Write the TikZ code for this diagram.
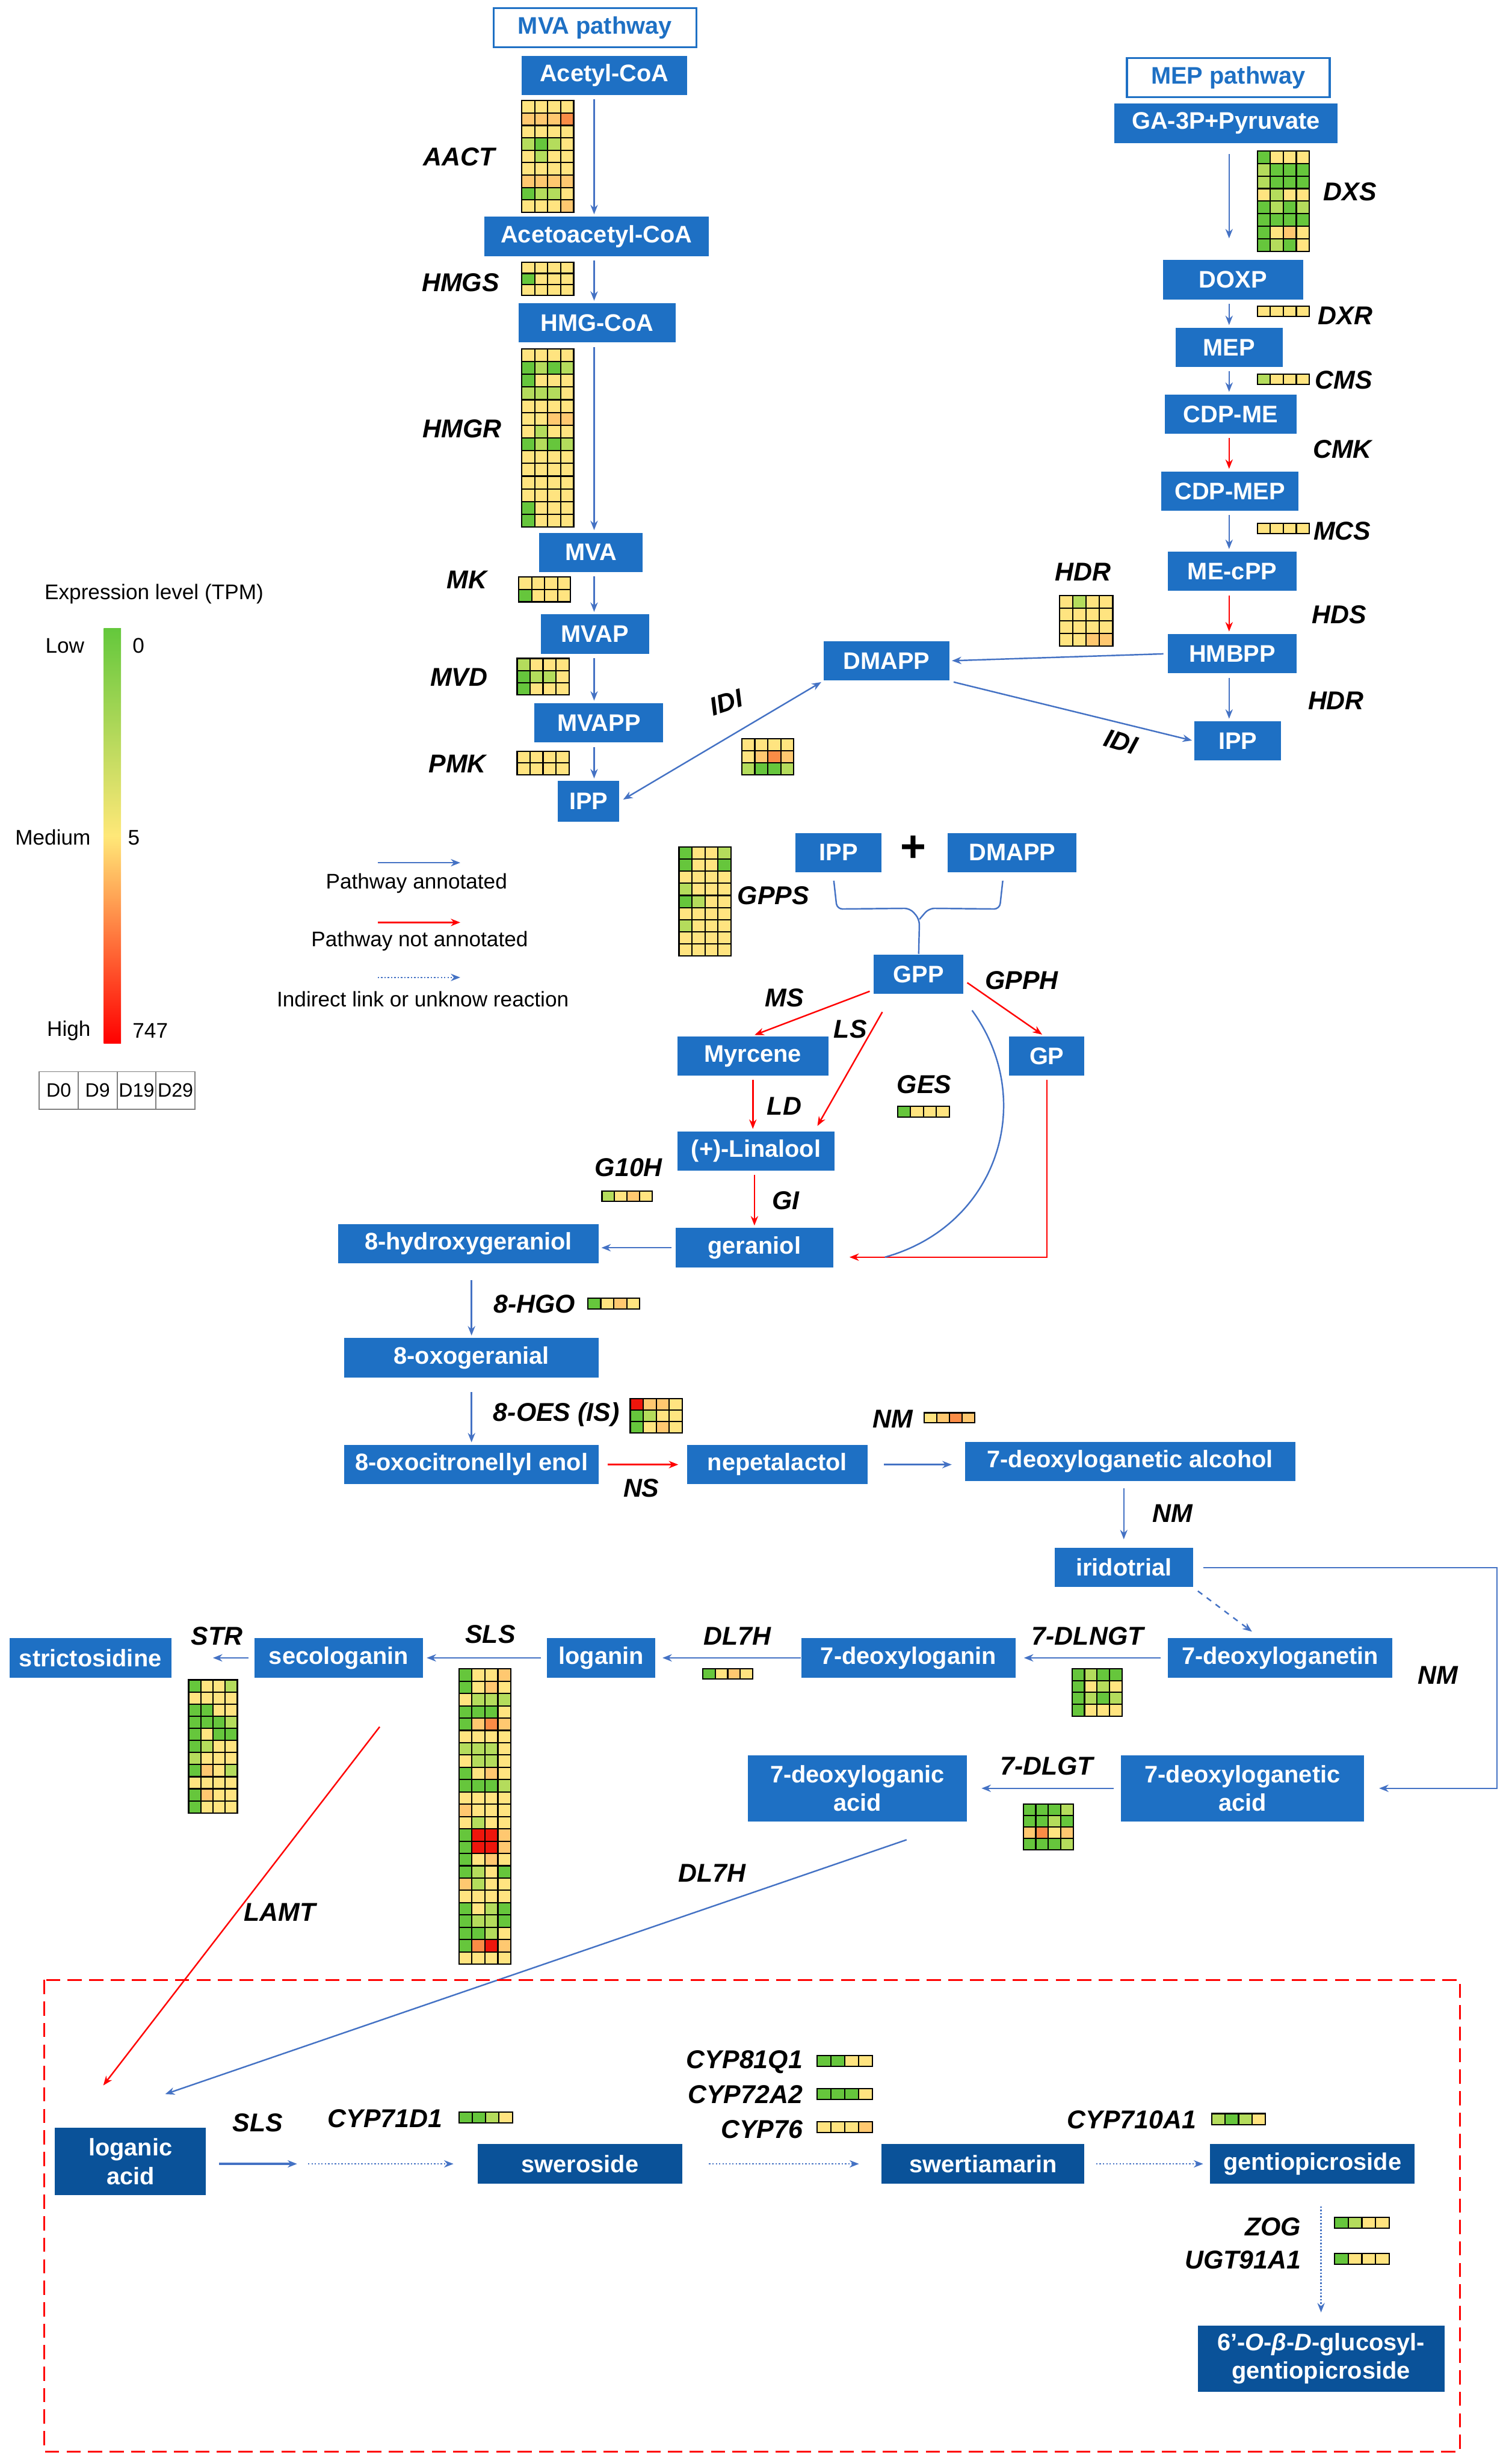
\documentclass[tikz,border=0pt]{standalone}
\usepackage{fontspec}
\setmainfont{Liberation Sans}
\usetikzlibrary{arrows.meta,calc}
\definecolor{boxblue}{RGB}{30,112,196}
\definecolor{darkblue}{RGB}{10,82,153}
\definecolor{lineblue}{RGB}{68,114,196}
\definecolor{hmg}{RGB}{102,198,60}
\definecolor{hml}{RGB}{180,220,92}
\definecolor{hmy}{RGB}{255,228,128}
\definecolor{hma}{RGB}{255,200,112}
\definecolor{hmo}{RGB}{250,140,70}
\definecolor{hmr}{RGB}{238,22,12}
\definecolor{cbgreen}{RGB}{100,200,60}
\definecolor{cbyellow}{RGB}{255,232,120}
\tikzset{every picture/.style={line width=0.8pt}}
\tikzset{
  pbox/.style={fill=boxblue, text=white, inner sep=0pt, minimum height=7.5mm,
    font=\bfseries\fontsize{13}{15.5}\selectfont},
  dbox/.style={pbox, fill=darkblue},
  pwbox/.style={draw=boxblue, line width=1pt, fill=white, text=boxblue, inner sep=0pt,
    minimum height=7.5mm, font=\bfseries\fontsize{13}{15.5}\selectfont},
  gene/.style={font=\bfseries\itshape\fontsize{14}{16}\selectfont},
  legend/.style={font=\fontsize{11.5}{13}\selectfont},
  bline/.style={->, draw=lineblue, shorten >=1pt, shorten <=2pt},
  rline/.style={bline, draw=red},
  dline/.style={bline, densely dotted},
  plain/.style={draw=lineblue},
}
% heat map: x, y, cell width, cell height, rows
\newcommand{\heat}[5]{%
  \foreach \hmrow [count=\hmi] in {#5} {%
    \foreach \hmc [count=\hmj] in \hmrow {%
      \filldraw[fill=hm\hmc, draw=black, line width=0.7pt]
        ({#1+(\hmj-1)*#3},{#2+(\hmi-1)*#4}) rectangle ++(#3,#4);
    }%
  }%
}

\begin{document}
\begin{tikzpicture}[x=0.3mm, y=-0.3mm, >={Stealth[length=1.8mm, width=1.4mm]}]
    \useasboundingbox (0,0) rectangle (958,1568);
    \coordinate (mvaaxis) at (378,0);
    \coordinate (mepaxis) at (782,0);

    % MVA pathway
    \node[pwbox, minimum width=38.7mm] (mvapw) at (378.5,17.5) {MVA pathway};
    \node[pbox, minimum width=31.5mm] (acetyl) at (384.5,48) {Acetyl-CoA};
    \node[pbox, minimum width=42.9mm] (acetoacetyl) at (379.5,150.5) {Acetoacetyl-CoA};
    \node[pbox, minimum width=30mm] (hmgcoa) at (380,205.5) {HMG-CoA};
    \node[pbox, minimum width=19.8mm] (mva) at (376,351.5) {MVA};
    \node[pbox, minimum width=20.7mm] (mvap) at (378.5,403.5) {MVAP};
    \node[pbox, minimum width=24.6mm] (mvapp) at (381,460) {MVAPP};
    \node[pbox, minimum width=11.7mm, minimum height=7.8mm] (ippL) at (374.5,510) {IPP};
    \draw[bline] (acetyl.south -| mvaaxis) -- (acetoacetyl.north -| mvaaxis);
    \draw[bline] (acetoacetyl.south -| mvaaxis) -- (hmgcoa.north -| mvaaxis);
    \draw[bline] (hmgcoa.south -| mvaaxis) -- (mva.north -| mvaaxis);
    \draw[bline] (mva.south -| mvaaxis) -- (mvap.north -| mvaaxis);
    \draw[bline] (mvap.south -| mvaaxis) -- (mvapp.north -| mvaaxis);
    \draw[bline] (mvapp.south -| mvaaxis) -- (ippL.north -| mvaaxis);
    \node[gene] (gaact) at (292,100) {AACT};
    \node[gene] (ghmgs) at (293,180) {HMGS};
    \node[gene] (ghmgr) at (294,273) {HMGR};
    \node[gene] (gmk) at (297,369) {MK};
    \node[gene] (gmvd) at (292,431) {MVD};
    \node[gene] (gpmk) at (291,486) {PMK};
    \heat{332}{64}{8.25}{7.9}{{y,y,y,y},{a,a,a,o},{y,y,y,y},{l,g,l,y},{y,l,y,y},{y,y,y,y},{a,a,a,a},{g,l,l,y},{y,y,y,a}}
    \heat{332}{167}{8.25}{7}{{y,y,y,y},{g,y,y,y},{y,y,y,y}}
    \heat{332}{222}{8.25}{8.1}{{y,y,y,y},{g,l,g,l},{g,y,y,y},{l,l,l,y},{y,y,y,y},{y,y,a,a},{y,l,y,y},{g,l,g,l},{y,y,y,y},{y,y,y,y},{y,y,y,y},{y,y,y,y},{g,y,y,y},{g,y,y,y}}
    \heat{330}{367}{8.25}{8}{{y,y,y,y},{g,y,y,y}}
    \heat{329}{419}{8.25}{7.7}{{l,y,y,y},{g,l,l,y},{g,y,y,y}}
    \heat{329}{478}{8.25}{7.5}{{y,y,y,y},{y,y,y,y}}

    % MEP pathway
    \node[pwbox, minimum width=38.7mm] (meppw) at (781.5,49.5) {MEP pathway};
    \node[pbox, minimum width=42.6mm] (ga3p) at (780,78.5) {GA-3P+Pyruvate};
    \node[pbox, minimum width=26.7mm] (doxp) at (784.5,178) {DOXP};
    \node[pbox, minimum width=20.4mm] (mep) at (782,221) {MEP};
    \node[pbox, minimum width=25.2mm] (cdpme) at (783,263.5) {CDP-ME};
    \node[pbox, minimum width=26.1mm] (cdpmep) at (782.5,312.5) {CDP-MEP};
    \node[pbox, minimum width=24.6mm] (mecpp) at (784,363.5) {ME-cPP};
    \node[pbox, minimum width=24.6mm] (hmbpp) at (784,416) {HMBPP};
    \node[pbox, minimum width=16.5mm] (ippR) at (787.5,471.5) {IPP};
    \node[pbox, minimum width=24mm] (dmappT) at (564,420.5) {DMAPP};
    \draw[bline, shorten <=2mm, shorten >=4mm] (ga3p.south -| mepaxis) -- (doxp.north -| mepaxis);
    \draw[bline] (doxp.south -| mepaxis) -- (mep.north -| mepaxis);
    \draw[bline] (mep.south -| mepaxis) -- (cdpme.north -| mepaxis);
    \draw[rline] (cdpme.south -| mepaxis) -- (cdpmep.north -| mepaxis);
    \draw[bline] (cdpmep.south -| mepaxis) -- (mecpp.north -| mepaxis);
    \draw[rline] (mecpp.south -| mepaxis) -- (hmbpp.north -| mepaxis);
    \draw[bline] (hmbpp.south -| mepaxis) -- (ippR.north -| mepaxis);
    \draw[bline] (hmbpp.west) -- (dmappT.east);
    \draw[bline] (dmappT.south east) -- (ippR.west);
    \draw[bline, <->] (ippL.east) -- (dmappT.south west);
    \node[gene] (gdxs) at (859,122) {DXS};
    \node[gene] (gdxr) at (856,201) {DXR};
    \node[gene] (gcms) at (855,242) {CMS};
    \node[gene] (gcmk) at (854,286) {CMK};
    \node[gene] (gmcs) at (854,338) {MCS};
    \node[gene] (ghds) at (852,391) {HDS};
    \node[gene] (ghdr) at (850,446) {HDR};
    \node[gene] (ghdrb) at (689,364) {HDR};
    \node[gene, rotate=18, inner sep=1pt] (gidia) at (462,447) {IDI};
    \node[gene, rotate=-17, inner sep=1pt] (gidib) at (713,472) {IDI};
    \heat{800}{96}{8.25}{8}{{g,y,y,y},{l,g,g,g},{l,g,g,g},{y,l,y,y},{g,l,g,l},{g,g,g,g},{g,y,a,y},{g,l,g,y}}
    \heat{800}{195}{8.25}{6.5}{{y,y,y,y}}
    \heat{800}{238}{8.25}{6.5}{{l,y,y,y}}
    \heat{800}{333}{8.25}{6.5}{{y,y,y,y}}
    \heat{674}{379}{8.5}{8}{{y,l,y,y},{y,y,y,y},{y,y,y,y},{y,y,a,a}}
    \heat{472}{470}{8.25}{7.7}{{y,y,y,y},{y,a,o,a},{l,g,g,l}}

    % legend
    \node[legend, anchor=west] (explevel) at (24,378) {Expression level (TPM)};
    \shade[top color=cbgreen, bottom color=red, middle color=cbyellow] (66,400) rectangle (77,664);
    \node[legend, anchor=east] (llow) at (58,411) {Low};
    \node[legend, anchor=west] (lzero) at (80,411) {0};
    \node[legend, anchor=east] (lmed) at (62,533) {Medium};
    \node[legend, anchor=west] (lfive) at (77,533) {5};
    \node[legend, anchor=east] (lhigh) at (62,656) {High};
    \node[legend, anchor=west] (lmax) at (80,656) {747};
    \foreach \d [count=\k] in {D0,D9,D19,D29} {
        \draw[gray, line width=0.6pt] ({25+(\k-1)*24.75},682) rectangle ++(24.75,24);
        \node[font=\fontsize{10.5}{12}\selectfont] (day\k) at ({25+(\k-0.5)*24.75},694) {\d};
    }
    \draw[bline] (238,549) -- (294,549);
    \node[legend] (kannot) at (265,562) {Pathway annotated};
    \draw[rline] (238,587) -- (294,587);
    \node[legend] (knot) at (267,599) {Pathway not annotated};
    \draw[dline] (238,622) -- (294,622);
    \node[legend] (kind) at (269,636) {Indirect link or unknow reaction};

    % GPP
    \node[pbox, minimum width=16.5mm] (ippM) at (533.5,542.5) {IPP};
    \node[font=\bfseries\fontsize{24}{24}\selectfont] (plus) at (581,540) {+};
    \node[pbox, minimum width=24.6mm] (dmappM) at (644,542.5) {DMAPP};
    \node[pbox, minimum width=17.1mm] (gpp) at (584.5,620) {GPP};
    \coordinate (gppjoin) at (585,585);
    \draw[plain, rounded corners=3pt] ($(ippM.south)+(-3,5)$) -- ($(ippM.south)+(-1,23)$) -- ($(gppjoin)+(-6,-7)$) -- (gppjoin) -- (gpp.north);
    \draw[plain, rounded corners=3pt] ($(dmappM.south)+(-6,5)$) -- ($(dmappM.south)+(-8,23)$) -- ($(gppjoin)+(6,-7)$) -- (gppjoin);
    \node[gene] (ggpps) at (492,570) {GPPS};
    \heat{432}{539}{8.25}{7.7}{{g,y,y,l},{g,y,y,g},{y,y,y,y},{l,y,y,y},{g,l,y,y},{y,y,y,y},{l,y,y,y},{y,y,y,y},{y,y,y,y}}

    \node[pbox, minimum width=28.8mm] (myrcene) at (479,672) {Myrcene};
    \node[pbox, minimum width=14.4mm] (gp) at (666,672) {GP};
    \node[pbox, minimum width=30mm] (linalool) at (481,732.5) {(+)-Linalool};
    \node[pbox, minimum width=30mm] (geraniol) at (480,794) {geraniol};
    \coordinate (gesjoin) at (563,800);
    \draw[rline] ($(gpp.south west)+(0,-3)$) -- (myrcene.north);
    \draw[rline] ($(gpp.south west)+(7,9)$) -- ($(linalool.north east)+(-12,-2)$);
    \draw[rline] ($(gpp.east)+(0,4)$) -- ($(gp.north)+(-2,0)$);
    \draw[rline] (myrcene.south) -- (myrcene.south |- linalool.north);
    \draw[rline] (linalool.south -| geraniol.north) -- (geraniol.north);
    \draw[rline, shorten >=3mm] (gp.south) |- ($(geraniol.east)+(0,6)$);
    \draw[plain] ($(gpp.south east)+(5,10)$) .. controls (660,700) and (635,780) .. (gesjoin);
    \node[gene] (gms) at (499,635) {MS};
    \node[gene] (gls) at (541,655) {LS};
    \node[gene] (ggpph) at (650,624) {GPPH};
    \node[gene] (gld) at (499,704) {LD};
    \node[gene] (gges) at (588,690) {GES};
    \node[gene] (ggi) at (500,764) {GI};
    \node[gene] (gg10h) at (400,743) {G10H};
    \heat{571}{704}{8.25}{7}{{g,y,y,y}}
    \heat{383}{758}{8}{6.5}{{l,y,a,y}}

    % iridoid branch
    \node[pbox, minimum width=49.8mm] (hydroxy) at (298,791.5) {8-hydroxygeraniol};
    \node[pbox, minimum width=48.6mm] (oxoger) at (300,864) {8-oxogeranial};
    \node[pbox, minimum width=48.6mm] (oxocit) at (300,932) {8-oxocitronellyl enol};
    \node[pbox, minimum width=34.5mm] (nepeta) at (494.5,932) {nepetalactol};
    \node[pbox, minimum width=63mm] (dlgalc) at (719,930) {7-deoxyloganetic alcohol};
    \node[pbox, minimum width=26.4mm] (iridotrial) at (715,997.5) {iridotrial};
    \draw[bline] (geraniol.west) -- (geraniol.west -| hydroxy.east);
    \draw[bline, shorten <=3mm] (hydroxy.south -| oxoger.north) -- (oxoger.north);
    \draw[bline, shorten <=2.7mm] (oxoger.south) -- (oxocit.north);
    \draw[rline, shorten <=1.5mm, shorten >=1.5mm] (oxocit.east) -- (nepeta.west);
    \draw[bline, shorten <=3mm, shorten >=2.4mm] (nepeta.east) -- (nepeta.east -| dlgalc.west);
    \draw[bline, shorten <=1.2mm, shorten >=1.5mm] (dlgalc.south -| iridotrial.north) -- (iridotrial.north);
    \node[gene] (g8hgo) at (340,830) {8-HGO};
    \node[gene] (g8oes) at (354,900) {8-OES (IS)};
    \node[gene] (gns) at (408,947) {NS};
    \node[gene] (gnma) at (568,903) {NM};
    \node[gene] (gnmb) at (746,963) {NM};
    \heat{374}{826}{8.25}{7}{{g,y,a,y}}
    \heat{401}{890}{8.25}{7.3}{{r,a,a,y},{g,l,y,y},{g,y,a,y}}
    \heat{588}{899}{8}{6.5}{{y,a,o,a}}

    \node[pbox, minimum width=42.9mm] (dloganetin) at (814.5,1055) {7-deoxyloganetin};
    \node[pbox, minimum width=40.8mm] (dloganin) at (578,1055) {7-deoxyloganin};
    \node[pbox, minimum width=20.7mm] (loganin) at (382.5,1055) {loganin};
    \node[pbox, minimum width=32.1mm] (secologanin) at (215.5,1055) {secologanin};
    \node[pbox, minimum width=30.9mm] (strictosidine) at (57.5,1055) {strictosidine};
    \node[pbox, minimum width=46.5mm, minimum height=12.6mm, align=center] (dlgacid) at (790.5,1138) {7-deoxyloganetic\\acid};
    \node[pbox, minimum width=41.7mm, minimum height=12.6mm, align=center] (dlgnacid) at (545.5,1138) {7-deoxyloganic\\acid};
    \draw[bline, shorten <=1.8mm, shorten >=2.7mm] (iridotrial.east) -- ++(193,0) |- (dlgacid.east);
    \draw[bline, dashed, shorten <=1mm] (iridotrial.south east) -- ($(dloganetin.north)+(-17,-3)$);
    \draw[bline, shorten <=1.2mm, shorten >=1.5mm] (dloganetin.west) -- (dloganetin.west -| dloganin.east);
    \draw[bline, shorten <=0pt, shorten >=1.2mm] (dloganin.west) -- (dloganin.west -| loganin.east);
    \draw[bline, shorten <=1mm, shorten >=0.6mm] (loganin.west) -- (loganin.west -| secologanin.east);
    \draw[bline, shorten <=1mm, shorten >=7.8mm] (secologanin.west) -- (secologanin.west -| strictosidine.east);
    \draw[bline, shorten <=1.2mm, shorten >=2.7mm] (dlgacid.west) -- (dlgacid.west -| dlgnacid.east);
    \node[gene] (gnmc) at (915,1066) {NM};
    \node[gene] (g7dlngt) at (692,1041) {7-DLNGT};
    \node[gene] (gdl7ha) at (469,1041) {DL7H};
    \node[gene] (gslsa) at (312,1040) {SLS};
    \node[gene] (gstr) at (138,1041) {STR};
    \node[gene] (g7dlgt) at (666,1124) {7-DLGT};
    \heat{682}{1062}{8}{7.5}{{g,l,g,g},{g,y,l,y},{g,l,g,l},{g,y,y,y}}
    \heat{447}{1062}{8}{6.5}{{g,y,a,y}}
    \heat{292}{1062}{8.25}{7.83}{{g,y,y,a},{g,y,a,y},{y,l,l,l},{g,g,g,y},{g,a,o,a},{y,y,y,y},{l,l,l,y},{y,l,l,y},{g,y,a,y},{g,g,g,l},{y,y,y,y},{a,y,y,y},{y,l,y,y},{g,r,r,a},{g,r,r,a},{g,y,a,y},{g,l,y,g},{a,l,y,y},{y,y,y,y},{g,y,l,g},{g,l,l,g},{g,g,l,y},{g,o,r,a},{y,y,y,y}}
    \heat{120}{1069}{7.75}{7.7}{{g,y,y,l},{y,y,y,y},{g,g,y,y},{g,g,g,l},{g,y,g,g},{g,l,y,y},{l,y,y,y},{g,a,y,l},{y,y,y,y},{g,a,y,y},{g,y,y,y}}
    \heat{651}{1148}{8}{7.3}{{g,g,g,l},{g,g,l,g},{a,o,y,a},{g,g,g,l}}

    % links into the box below
    \coordinate (dl7hstart) at (579,1170);
    \coordinate (dl7hend) at (104,1333);
    \coordinate (lamtstart) at (243,1097);
    \coordinate (lamtend) at (65,1328);
    \draw[bline] (dl7hstart) -- (dl7hend);
    \draw[rline] (lamtstart) -- (lamtend);
    \node[gene] (gdl7hb) at (453,1192) {DL7H};
    \node[gene] (glamt) at (178,1217) {LAMT};

    % secoiridoid box
    \draw[red, line width=0.9pt, dash pattern=on 2.7mm off 1.4mm] (28,1260) rectangle (929,1560);
    \node[dbox, minimum width=28.8mm, minimum height=12.9mm, align=center] (loganicacid) at (83,1375.5) {loganic\\acid};
    \node[dbox, minimum width=39mm] (sweroside) at (369,1377) {sweroside};
    \node[dbox, minimum width=38.7mm] (swertiamarin) at (625.5,1377) {swertiamarin};
    \node[dbox, minimum width=39mm] (gentio) at (835,1377) {gentiopicroside};
    \node[dbox, minimum width=47.1mm, minimum height=12.6mm, align=center] (glucosyl) at (840.5,1501) {6'-\textit{O}-\textit{β}-\textit{D}-glucosyl-\\gentiopicroside};
    \coordinate (slsmid) at (192,1377);
    \draw[bline, line width=1.2pt, shorten <=2.4mm, shorten >=0.9mm] (loganicacid.east |- slsmid) -- (slsmid);
    \draw[dline, shorten <=1.2mm, shorten >=4.5mm] (slsmid) -- (sweroside.west);
    \draw[dline, shorten <=5mm, shorten >=4.2mm] (sweroside.east) -- (swertiamarin.west);
    \draw[dline, shorten <=2.1mm, shorten >=1.2mm] (swertiamarin.east) -- (gentio.west);
    \draw[dline, shorten <=4.2mm, shorten >=2.4mm] (gentio.south -| glucosyl.north) -- (glucosyl.north);
    \node[gene] (gslsb) at (164,1351) {SLS};
    \node[gene] (gcyp71) at (245,1348) {CYP71D1};
    \node[gene, anchor=east] (gcyp81) at (515,1312) {CYP81Q1};
    \node[gene, anchor=east] (gcyp72) at (515,1333) {CYP72A2};
    \node[gene, anchor=east] (gcyp76) at (515,1355) {CYP76};
    \node[gene] (gcyp710) at (720,1349) {CYP710A1};
    \node[gene, anchor=east] (gzog) at (832,1417) {ZOG};
    \node[gene, anchor=east] (gugt) at (832,1438) {UGT91A1};
    \heat{292}{1344}{8.5}{7}{{g,g,l,y}}
    \heat{520}{1308}{8.75}{7}{{g,g,y,y}}
    \heat{520}{1329}{8.75}{7}{{g,g,g,y}}
    \heat{520}{1350}{8.75}{7}{{y,y,y,a}}
    \heat{771}{1345}{8.5}{7}{{l,g,l,y}}
    \heat{849}{1411}{8.75}{7}{{g,l,y,y}}
    \heat{849}{1434}{8.75}{7}{{g,y,y,y}}
\end{tikzpicture}
\end{document}
